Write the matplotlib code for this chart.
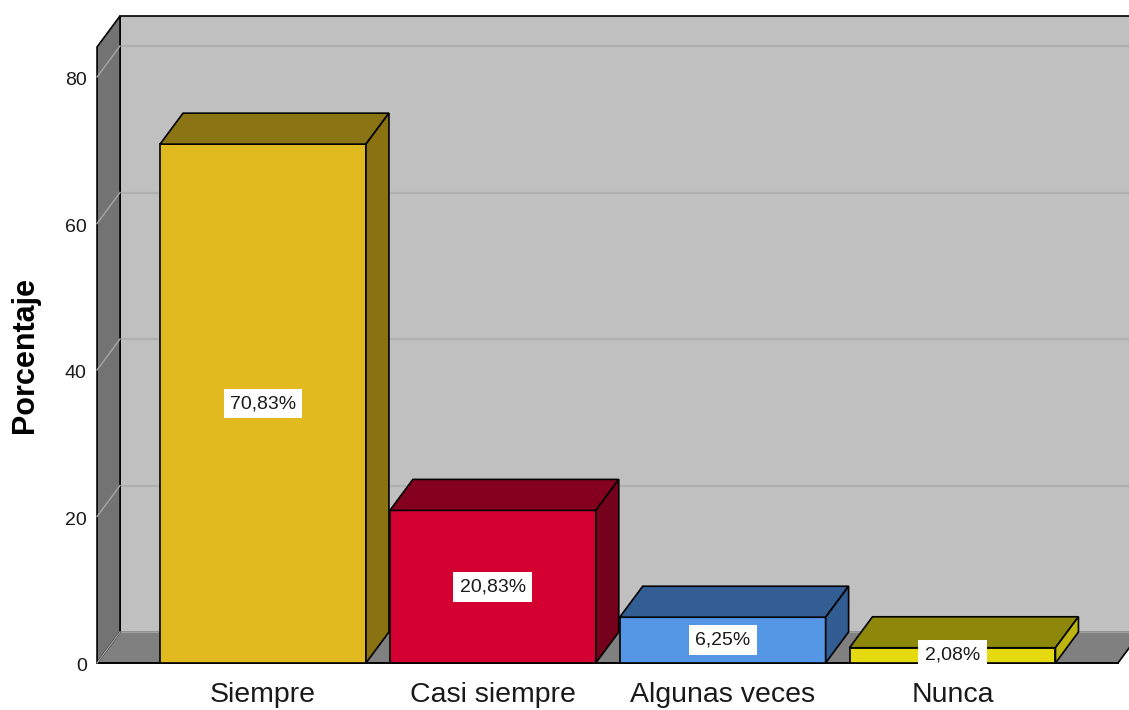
import matplotlib
matplotlib.use("Agg")
import matplotlib.pyplot as plt
from matplotlib.patches import Polygon

plt.rcParams['font.family'] = ['Liberation Sans', 'DejaVu Sans']

categorias = ["Siempre", "Casi siempre", "Algunas veces", "Nunca"]
porcentajes = [70.83, 20.83, 6.25, 2.08]
ticks_y = [0, 20, 40, 60, 80]

color_frente = ["#e0ba1f", "#d50032", "#5597e4", "#e5d90f"]
color_tapa = ["#8b7414", "#85001f", "#335e94", "#8d880a"]
color_lado = ["#8a7213", "#75001c", "#325d92", "#bdb410"]

# geometria del "3D" en unidades de datos
dx, dy = 0.10, 4.23
ancho = 0.896
x_izq, x_der = -0.722, 3.72
y_techo = 84.1

fig = plt.figure(figsize=(11.29, 7.10), dpi=100)
ax = fig.add_axes([0, 0, 1, 1])
ax.set_xlim(-1.1443, 3.768)
ax.set_ylim(-6.416, 90.51)
ax.axis('off')

def cara(pts, color, z, lw=1.2, ec='black'):
    ax.add_patch(Polygon(pts, closed=True, facecolor=color, edgecolor=ec,
                         linewidth=lw, zorder=z, joinstyle='miter'))

# pared del fondo
cara([(x_izq + dx, dy), (x_der + dx + 1, dy), (x_der + dx + 1, y_techo + dy),
      (x_izq + dx, y_techo + dy)], "#c0c0c0", 1)
# pared izquierda
cara([(x_izq, 0), (x_izq + dx, dy), (x_izq + dx, y_techo + dy), (x_izq, y_techo)],
     "#737373", 1.5)
# suelo
cara([(x_izq, 0), (x_der, 0), (x_der + dx, dy), (x_izq + dx, dy)], "#808080", 1.2, lw=0)
ax.plot([x_izq, x_der], [0, 0], color='black', lw=1.4, zorder=1.6)
ax.plot([x_der, x_der + dx], [0, dy], color='black', lw=1.2, zorder=1.6)
ax.plot([x_izq, x_izq + dx], [0, dy], color='#a0a0a0', lw=1.0, zorder=1.6)
ax.plot([x_izq + dx, x_der + dx + 1], [dy, dy], color='#a8a8a8', lw=1.2, zorder=1.3)

# lineas de cuadricula y marcas del eje
for v in ticks_y:
    if v > 0:
        ax.plot([x_izq + dx, x_der + dx + 1], [v + dy, v + dy], color='#b0b0b0', lw=1.6, zorder=1.3)
        ax.plot([x_izq, x_izq + dx], [v, v + dy], color='#a6a6a6', lw=1.0, zorder=1.6)
    ax.text(x_izq - 0.045, v - 0.5, str(v), ha='right', va='center', fontsize=14, color='#1a1a1a')

# barras
for i, val in enumerate(porcentajes):
    x0, x1 = i - ancho / 2, i + ancho / 2
    cara([(x0, 0), (x1, 0), (x1, val), (x0, val)], color_frente[i], 3)
    cara([(x0, val), (x1, val), (x1 + dx, val + dy), (x0 + dx, val + dy)], color_tapa[i], 3)
    cara([(x1, 0), (x1 + dx, dy), (x1 + dx, val + dy), (x1, val)], color_lado[i], 3)
    etiqueta = f"{val:.2f}%".replace(".", ",")
    ax.text(i, val / 2, etiqueta, ha='center', va='center', fontsize=14, color='#1a1a1a',
            zorder=10, bbox=dict(boxstyle='square,pad=0.33', facecolor='white', edgecolor='none'))
    ax.text(i, -4.4, categorias[i], ha='center', va='center', fontsize=20.5, color='#1a1a1a')

ax.text(-1.036, 42, "Porcentaje", rotation=90, ha='center', va='center',
        fontsize=22, fontweight='bold', color='black')

fig.savefig("out.png", dpi=100)
